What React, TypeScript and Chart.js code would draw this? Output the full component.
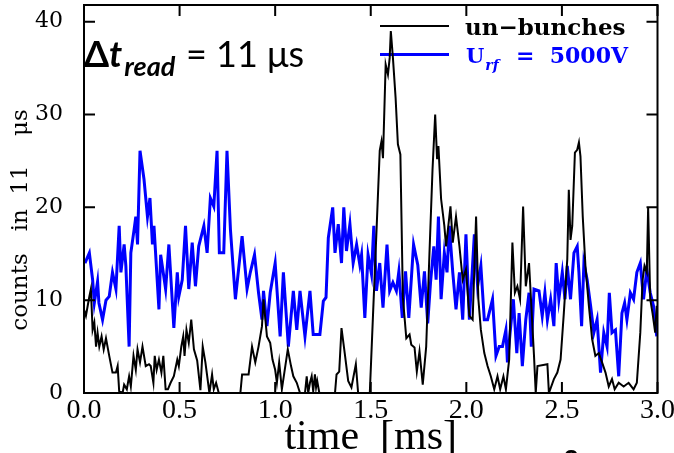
import React, { useEffect, useRef } from "react";
import { Chart, registerables } from "chart.js";

Chart.register(...registerables);

// ---- axis ticks ----
const xTicks = [0, 0.5, 1.0, 1.5, 2.0, 2.5, 3.0];
const yTicks = [0, 10, 20, 30, 40];

// ---- series: "un-bunches" (black) ----
const bunchTime = [
  0.0, 0.01, 0.028, 0.036, 0.045, 0.054, 0.063, 0.071, 0.08, 0.092,
  0.103, 0.115, 0.132, 0.149, 0.167, 0.176, 0.184, 0.202, 0.21, 0.224,
  0.236, 0.245, 0.259, 0.271, 0.28, 0.293, 0.306, 0.323, 0.34, 0.349,
  0.363, 0.37, 0.38, 0.392, 0.405, 0.415, 0.427, 0.439, 0.453, 0.47,
  0.488, 0.496, 0.509, 0.519, 0.526, 0.536, 0.548, 0.561, 0.575, 0.592,
  0.609, 0.621, 0.635, 0.656, 0.67, 0.679, 0.691, 0.705, 0.818, 0.827,
  0.861, 0.879, 0.896, 0.913, 0.931, 0.939, 0.957, 0.974, 0.986, 1.0,
  1.009, 1.021, 1.035, 1.048, 1.066, 1.083, 1.095, 1.113, 1.13, 1.156,
  1.165, 1.173, 1.182, 1.191, 1.199, 1.208, 1.214, 1.22, 1.231, 1.313,
  1.321, 1.335, 1.347, 1.365, 1.382, 1.399, 1.422, 1.434, 1.495, 1.512,
  1.53, 1.547, 1.556, 1.564, 1.578, 1.59, 1.599, 1.605, 1.616, 1.63,
  1.642, 1.655, 1.668, 1.686, 1.703, 1.712, 1.729, 1.741, 1.755, 1.772,
  1.79, 1.807, 1.823, 1.837, 1.847, 1.854, 1.868, 1.885, 1.894, 1.917,
  1.929, 1.946, 1.964, 1.981, 1.998, 2.016, 2.033, 2.051, 2.063, 2.076,
  2.094, 2.111, 2.128, 2.146, 2.163, 2.177, 2.194, 2.207, 2.224, 2.241,
  2.254, 2.267, 2.281, 2.297, 2.311, 2.328, 2.34, 2.354, 2.363, 2.372,
  2.424, 2.432, 2.458, 2.476, 2.493, 2.51, 2.528, 2.536, 2.545, 2.554,
  2.568, 2.58, 2.589, 2.597, 2.609, 2.623, 2.641, 2.658, 2.675, 2.693,
  2.71, 2.728, 2.745, 2.762, 2.776, 2.797, 2.823, 2.849, 2.875, 2.892,
  2.91, 2.922, 2.932, 2.944, 2.951, 2.962, 2.974, 2.988, 2.996,
];
const bunchCounts = [
  9.0, 8.3, 10.4, 11.2, 6.8, 7.6, 5.0, 6.5, 5.0, 6.1,
  4.7, 5.9, 4.0, 2.2, 2.2, 2.9, 0.2, 0, 0.9, 0.4,
  1.8, 0.7, 4.0, 2.5, 4.7, 3.3, 5.0, 2.9, 3.1, 2.9,
  1.1, 4.0, 2.5, 3.6, 2.2, 4.0, 0.4, 0.4, 1.1, 1.8,
  3.6, 2.9, 5.0, 6.1, 4.0, 6.8, 5.4, 7.9, 4.7, 3.5,
  0.3, 5.0, 3.3, 0, 2.0, 0.4, 1.1, 0, 0, 2.0,
  2.0, 5.0, 3.3, 5.0, 7.2, 10.1, 6.1, 5.4, 3.6, 2.5,
  1.1, 3.3, 0.4, 2.2, 4.7, 2.9, 1.8, 1.1, 0, 0,
  1.8, 0, 1.1, 1.8, 0.2, 2.0, 0.6, 1.3, 0, 0,
  2.0, 2.3, 7.0, 4.1, 1.3, 0.6, 3.1, 0, 0, 8.5,
  17.4, 26.1, 27.1, 25.3, 35.4, 34.3, 36.1, 39.0, 36.1, 31.8,
  26.8, 25.7, 10.3, 5.9, 6.3, 5.2, 4.9, 2.3, 4.5, 0.9,
  5.0, 15.0, 24.0, 30.0, 25.2, 26.6, 20.9, 18.0, 15.8, 20.1,
  16.2, 19.0, 15.8, 12.2, 13.3, 8.3, 7.9, 19.0, 10.1, 6.8,
  4.3, 2.9, 1.8, 0.4, 1.8, 0.4, 1.8, 0.4, 3.6, 16.2,
  10.8, 11.5, 10.1, 20.1, 11.5, 14.0, 9.4, 4.0, 0, 2.9,
  3.1, 0, 1.5, 2.2, 3.6, 8.6, 14.4, 21.9, 16.5, 18.0,
  25.9, 26.2, 27.0, 25.5, 19.0, 13.7, 9.4, 5.8, 4.0, 4.3,
  3.3, 2.2, 0.7, 1.5, 0.4, 1.1, 0.7, 1.1, 0.4, 1.1,
  6.5, 12.2, 13.7, 13.0, 20.0, 10.1, 8.6, 6.5, 9.4,
];

// ---- series: "U_rf = 5000V" (blue) ----
const rfTime = [
  0.005, 0.028, 0.045, 0.054, 0.071, 0.078, 0.097, 0.115, 0.132, 0.149,
  0.167, 0.184, 0.193, 0.21, 0.219, 0.236, 0.245, 0.262, 0.271, 0.28,
  0.293, 0.314, 0.332, 0.345, 0.358, 0.366, 0.392, 0.401, 0.427, 0.444,
  0.47, 0.488, 0.496, 0.514, 0.531, 0.548, 0.566, 0.583, 0.6, 0.627,
  0.644, 0.661, 0.679, 0.696, 0.708, 0.731, 0.748, 0.766, 0.792, 0.827,
  0.853, 0.87, 0.892, 0.913, 0.931, 0.939, 0.957, 0.974, 1.0, 1.026,
  1.043, 1.069, 1.095, 1.113, 1.13, 1.156, 1.182, 1.199, 1.234, 1.252,
  1.266, 1.278, 1.301, 1.313, 1.33, 1.347, 1.359, 1.373, 1.391, 1.408,
  1.426, 1.443, 1.452, 1.469, 1.486, 1.504, 1.516, 1.53, 1.547, 1.564,
  1.585, 1.599, 1.616, 1.634, 1.647, 1.665, 1.682, 1.699, 1.724, 1.746,
  1.764, 1.781, 1.798, 1.813, 1.83, 1.842, 1.854, 1.868, 1.885, 1.899,
  1.911, 1.929, 1.946, 1.964, 1.981, 1.998, 2.016, 2.042, 2.059, 2.076,
  2.094, 2.111, 2.137, 2.155, 2.172, 2.189, 2.207, 2.215, 2.229, 2.246,
  2.264, 2.276, 2.293, 2.311, 2.328, 2.34, 2.354, 2.38, 2.397, 2.411,
  2.424, 2.441, 2.458, 2.47, 2.484, 2.502, 2.516, 2.528, 2.545, 2.563,
  2.58, 2.589, 2.603, 2.615, 2.632, 2.65, 2.667, 2.684, 2.702, 2.719,
  2.736, 2.748, 2.762, 2.78, 2.797, 2.814, 2.828, 2.84, 2.858, 2.875,
  2.892, 2.91, 2.927, 2.944, 2.962, 2.979, 2.996,
];
const rfCounts = [
  14.0, 15.1, 12.2, 9.7, 12.0, 9.7, 7.9, 10.0, 10.4, 13.0,
  11.2, 18.0, 13.0, 16.0, 13.7, 5.0, 15.1, 17.6, 19.0, 16.0,
  26.1, 23.0, 19.0, 21.0, 16.0, 18.0, 9.0, 14.9, 11.2, 16.0,
  7.0, 13.0, 10.4, 12.2, 18.0, 11.2, 16.2, 11.5, 15.8, 18.0,
  15.1, 21.0, 20.1, 26.1, 15.1, 15.1, 26.1, 17.6, 10.1, 16.9,
  11.2, 13.0, 14.9, 10.8, 7.9, 11.0, 7.2, 10.8, 14.0, 6.1,
  13.0, 5.0, 11.0, 6.8, 11.0, 6.1, 11.0, 6.3, 6.3, 9.9,
  10.3, 16.7, 20.0, 15.1, 18.2, 14.0, 20.0, 15.3, 18.2, 14.0,
  16.0, 13.8, 14.9, 8.1, 14.9, 12.8, 18.0, 11.0, 14.0, 9.2,
  16.0, 11.0, 11.9, 11.0, 13.1, 8.1, 13.1, 8.1, 16.0, 13.8,
  9.2, 13.1, 7.5, 12.0, 15.8, 12.2, 19.0, 10.1, 15.1, 13.0,
  18.0, 13.0, 9.0, 13.0, 7.9, 17.1, 7.9, 17.1, 11.5, 13.7,
  7.9, 7.9, 10.1, 4.0, 5.0, 5.0, 6.8, 3.3, 6.5, 10.1,
  4.3, 8.6, 2.9, 7.9, 10.8, 5.0, 11.2, 11.0, 8.3, 10.8,
  7.9, 10.1, 7.2, 14.0, 10.1, 13.0, 10.1, 13.7, 10.1, 15.1,
  15.8, 13.0, 7.2, 14.0, 12.2, 9.4, 6.5, 7.9, 2.2, 6.5,
  5.0, 10.8, 6.5, 6.8, 1.8, 8.6, 9.7, 7.9, 10.8, 10.1,
  13.0, 14.0, 10.1, 13.3, 10.8, 9.4, 6.1,
];

const xLabel = "time  [ms]";
const yLabel = "counts   in  11    \u03bcs";
const bunchLabel = "un\u2212bunches";

const pairs = (xs: number[], ys: number[]) => xs.map((x, i) => ({ x, y: ys[i] }));

const framePlugin = {
  id: "frameAndText",
  beforeDatasetsDraw(chart: any) {
    const { ctx } = chart;
    ctx.save();
    // legend lines (drawn beneath data)
    ctx.lineWidth = 2;
    ctx.strokeStyle = "#000";
    ctx.beginPath();
    ctx.moveTo(380, 26);
    ctx.lineTo(449, 26);
    ctx.stroke();
    ctx.lineWidth = 3;
    ctx.strokeStyle = "#0000ff";
    ctx.beginPath();
    ctx.moveTo(380, 54.5);
    ctx.lineTo(449, 54.5);
    ctx.stroke();
    ctx.restore();
  },
  afterDraw(chart: any) {
    const { ctx, chartArea, scales } = chart;
    const { left, right, top, bottom } = chartArea;
    const xs = scales.x;
    const ys = scales.y;
    ctx.save();
    ctx.strokeStyle = "#000";
    ctx.lineWidth = 2;
    ctx.strokeRect(left, top, right - left, bottom - top);
    const tl = 11;
    ctx.beginPath();
    xTicks.forEach((v) => {
      const px = xs.getPixelForValue(v);
      ctx.moveTo(px, bottom);
      ctx.lineTo(px, bottom - tl);
      ctx.moveTo(px, top);
      ctx.lineTo(px, top + tl);
    });
    yTicks.forEach((v) => {
      const py = ys.getPixelForValue(v);
      ctx.moveTo(left, py);
      ctx.lineTo(left + tl, py);
      ctx.moveTo(right, py);
      ctx.lineTo(right - tl, py);
    });
    ctx.stroke();

    // axis titles
    ctx.fillStyle = "#000";
    ctx.textBaseline = "alphabetic";
    ctx.font = "42px 'Liberation Serif'";
    ctx.textAlign = "center";
    ctx.fillText(xLabel, (left + right) / 2, 449);

    ctx.save();
    ctx.translate(27, 220);
    ctx.rotate(-Math.PI / 2);
    ctx.font = "23px 'DejaVu Serif'";
    ctx.textAlign = "center";
    ctx.fillText(yLabel, 0, 0);
    ctx.restore();

    // legend text
    ctx.textAlign = "left";
    ctx.fillStyle = "#000";
    ctx.font = "bold 23px 'DejaVu Serif'";
    ctx.fillText(bunchLabel, 465, 35);
    ctx.fillStyle = "#0000ff";
    ctx.font = "bold 21px 'DejaVu Serif'";
    ctx.fillText("U", 466, 63);
    const ux = 466 + ctx.measureText("U").width + 1;
    ctx.font = "bold italic 14px 'DejaVu Serif'";
    ctx.fillText("rf", ux, 70);
    ctx.font = "bold 22px 'DejaVu Serif'";
    ctx.fillText("=  5000V", 516, 63);

    // annotation
    ctx.fillStyle = "#000";
    let ax = 84;
    ctx.font = "bold 36px Lato";
    ctx.fillText("\u0394", ax, 67);
    ax += ctx.measureText("\u0394").width;
    ctx.font = "bold italic 36px Lato";
    ctx.fillText("t", ax, 67);
    ax += ctx.measureText("t").width + 2;
    ctx.font = "bold italic 27px Lato";
    ctx.fillText("read", ax, 76);
    ctx.font = "36px Lato";
    ctx.fillText("= 11 \u03bcs", 186, 67);

    // fragment of a following line, cut by the page edge
    ctx.font = "bold 26px 'Liberation Sans'";
    ctx.fillText("2", 564, 468);
    ctx.restore();
  },
};

export default function App() {
  const ref = useRef<HTMLCanvasElement>(null);
  useEffect(() => {
    const chart = new Chart(ref.current as HTMLCanvasElement, {
      type: "line",
      data: {
        datasets: [
          {
            label: bunchLabel,
            data: pairs(bunchTime, bunchCounts),
            borderColor: "#000000",
            borderWidth: 2,
            pointRadius: 0,
            tension: 0,
            fill: false,
            order: 0,
          },
          {
            label: "U_rf = 5000V",
            data: pairs(rfTime, rfCounts),
            borderColor: "#0000ff",
            borderWidth: 3,
            pointRadius: 0,
            tension: 0,
            fill: false,
            order: 1,
          },
        ],
      },
      options: {
        responsive: false,
        animation: false,
        devicePixelRatio: 1,
        layout: { padding: { top: 5, right: 16.5, bottom: 0, left: 0 } },
        plugins: { legend: { display: false }, tooltip: { enabled: false } },
        scales: {
          x: {
            type: "linear",
            min: 0,
            max: 3,
            grid: { display: false, drawTicks: false },
            border: { display: false },
            ticks: {
              color: "#000",
              font: { family: "'Liberation Serif'", size: 28 },
              padding: 1,
              maxRotation: 0,
              autoSkip: false,
              callback: (v: any) => Number(v).toFixed(1),
            },
            afterBuildTicks: (s: any) => {
              s.ticks = xTicks.map((value) => ({ value }));
            },
            afterFit: (s: any) => {
              s.height = 60;
              s.paddingLeft = 0;
              s.paddingRight = 0;
              s.paddingTop = 0;
              s.paddingBottom = 0;
            },
          },
          y: {
            type: "linear",
            min: 0,
            max: 41.8,
            grid: { display: false, drawTicks: false },
            border: { display: false },
            ticks: {
              color: "#000",
              font: { family: "'DejaVu Serif'", size: 22 },
              padding: 21,
              autoSkip: false,
            },
            afterBuildTicks: (s: any) => {
              s.ticks = yTicks.map((value) => ({ value }));
            },
            afterFit: (s: any) => {
              s.width = 84;
              s.paddingLeft = 0;
              s.paddingRight = 0;
              s.paddingTop = 0;
              s.paddingBottom = 0;
            },
          },
        },
      },
      plugins: [framePlugin],
    });
    return () => chart.destroy();
  }, []);
  return (
    <div style={{ position: "fixed", left: 0, top: 0, width: 674, height: 453, background: "#fff" }}>
      <canvas ref={ref} width={674} height={453} style={{ width: 674, height: 453, display: "block" }} />
    </div>
  );
}
